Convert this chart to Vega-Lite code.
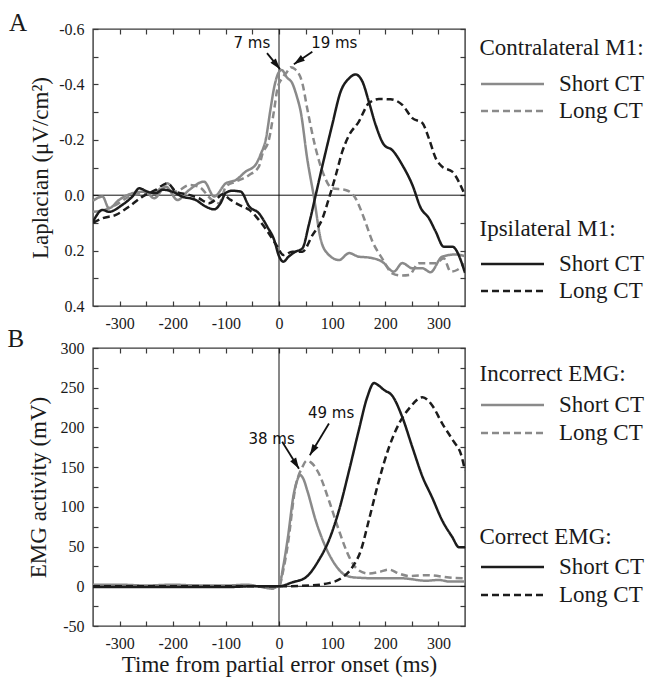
{
  "$schema": "https://vega.github.io/schema/vega-lite/v6.json",
  "padding": {"left": 6, "top": 10, "right": 4, "bottom": 2},
  "bounds": "flush",
  "spacing": 42,
  "background": "white",
  "config": {
    "font": "Liberation Serif",
    "style": {"guide-label": {"font": "Liberation Serif"}, "guide-title": {"font": "Liberation Serif"}},
    "view": {"stroke": "#3a3a3a", "strokeWidth": 1.4},
    "axis": {"grid": false, "domain": false, "tickColor": "#3a3a3a", "tickSize": -5, "tickWidth": 1.2, "labelFont": "Liberation Serif", "labelFontSize": 16, "labelColor": "#1a1a1a", "labelPadding": 14, "labelFlush": false, "labelOverlap": false, "titleFont": "Liberation Serif", "titleFontSize": 23, "titleFontWeight": "normal", "titleColor": "#1a1a1a"},
    "legend": {"orient": "none", "padding": 0, "titleFont": "Liberation Serif", "titleFontSize": 23, "titleFontWeight": "normal", "titleColor": "#1a1a1a", "labelFont": "Liberation Serif", "labelFontSize": 23, "labelColor": "#1a1a1a", "symbolType": "stroke", "symbolSize": 3969, "symbolStrokeWidth": 2.5, "labelOffset": 13.5, "clipHeight": 23, "titleLimit": 400, "labelLimit": 300},
    "title": {"font": "Liberation Serif", "fontSize": 25, "fontWeight": "normal", "color": "#1a1a1a", "anchor": "start", "frame": "group", "baseline": "alphabetic"}
  },
  "datasets": {
    "contra": [
      {"ct":"Short CT","t":-350,"v":0.02},{"ct":"Short CT","t":-332,"v":0.005},{"ct":"Short CT","t":-320,"v":0.047},{"ct":"Short CT","t":-301,"v":0.017},{"ct":"Short CT","t":-276,"v":-0.007},{"ct":"Short CT","t":-251,"v":-0.013},{"ct":"Short CT","t":-235,"v":0.011},{"ct":"Short CT","t":-213,"v":-0.031},{"ct":"Short CT","t":-191,"v":0.017},{"ct":"Short CT","t":-169,"v":-0.019},{"ct":"Short CT","t":-141,"v":-0.049},{"ct":"Short CT","t":-122,"v":0.005},{"ct":"Short CT","t":-100,"v":-0.043},{"ct":"Short CT","t":-81,"v":-0.055},{"ct":"Short CT","t":-63,"v":-0.085},{"ct":"Short CT","t":-44,"v":-0.11},{"ct":"Short CT","t":-34,"v":-0.15},{"ct":"Short CT","t":-25,"v":-0.2},{"ct":"Short CT","t":-16,"v":-0.31},{"ct":"Short CT","t":-9,"v":-0.39},{"ct":"Short CT","t":0,"v":-0.445},{"ct":"Short CT","t":5,"v":-0.452},{"ct":"Short CT","t":15,"v":-0.425},{"ct":"Short CT","t":25,"v":-0.404},{"ct":"Short CT","t":33,"v":-0.36},{"ct":"Short CT","t":41,"v":-0.3},{"ct":"Short CT","t":53,"v":-0.133},{"ct":"Short CT","t":66,"v":0.01},{"ct":"Short CT","t":78,"v":0.155},{"ct":"Short CT","t":91,"v":0.21},{"ct":"Short CT","t":113,"v":0.234},{"ct":"Short CT","t":132,"v":0.209},{"ct":"Short CT","t":150,"v":0.222},{"ct":"Short CT","t":169,"v":0.225},{"ct":"Short CT","t":194,"v":0.24},{"ct":"Short CT","t":216,"v":0.276},{"ct":"Short CT","t":232,"v":0.245},{"ct":"Short CT","t":251,"v":0.264},{"ct":"Short CT","t":270,"v":0.264},{"ct":"Short CT","t":285,"v":0.278},{"ct":"Short CT","t":307,"v":0.222},{"ct":"Short CT","t":332,"v":0.214},{"ct":"Short CT","t":350,"v":0.22},
      {"ct":"Long CT","t":-350,"v":0.06},{"ct":"Long CT","t":-332,"v":0.055},{"ct":"Long CT","t":-307,"v":0.035},{"ct":"Long CT","t":-282,"v":0.005},{"ct":"Long CT","t":-257,"v":-0.007},{"ct":"Long CT","t":-232,"v":-0.013},{"ct":"Long CT","t":-210,"v":-0.043},{"ct":"Long CT","t":-194,"v":-0.013},{"ct":"Long CT","t":-169,"v":-0.037},{"ct":"Long CT","t":-151,"v":-0.031},{"ct":"Long CT","t":-126,"v":0.017},{"ct":"Long CT","t":-113,"v":0.029},{"ct":"Long CT","t":-100,"v":-0.031},{"ct":"Long CT","t":-81,"v":-0.049},{"ct":"Long CT","t":-56,"v":-0.073},{"ct":"Long CT","t":-38,"v":-0.103},{"ct":"Long CT","t":-31,"v":-0.15},{"ct":"Long CT","t":-19,"v":-0.2},{"ct":"Long CT","t":-9,"v":-0.31},{"ct":"Long CT","t":-3,"v":-0.385},{"ct":"Long CT","t":5,"v":-0.42},{"ct":"Long CT","t":15,"v":-0.445},{"ct":"Long CT","t":22,"v":-0.462},{"ct":"Long CT","t":30,"v":-0.455},{"ct":"Long CT","t":44,"v":-0.404},{"ct":"Long CT","t":53,"v":-0.314},{"ct":"Long CT","t":66,"v":-0.193},{"ct":"Long CT","t":82,"v":-0.085},{"ct":"Long CT","t":100,"v":-0.025},{"ct":"Long CT","t":125,"v":-0.019},{"ct":"Long CT","t":144,"v":0.011},{"ct":"Long CT","t":160,"v":0.083},{"ct":"Long CT","t":176,"v":0.168},{"ct":"Long CT","t":194,"v":0.228},{"ct":"Long CT","t":213,"v":0.282},{"ct":"Long CT","t":230,"v":0.29},{"ct":"Long CT","t":245,"v":0.288},{"ct":"Long CT","t":263,"v":0.246},{"ct":"Long CT","t":295,"v":0.246},{"ct":"Long CT","t":310,"v":0.228},{"ct":"Long CT","t":323,"v":0.276},{"ct":"Long CT","t":335,"v":0.27},{"ct":"Long CT","t":350,"v":0.246}
    ],
    "ipsi": [
      {"ct":"Short CT","t":-350,"v":0.096},{"ct":"Short CT","t":-332,"v":0.053},{"ct":"Short CT","t":-320,"v":0.06},{"ct":"Short CT","t":-295,"v":0.035},{"ct":"Short CT","t":-276,"v":0.005},{"ct":"Short CT","t":-263,"v":-0.025},{"ct":"Short CT","t":-248,"v":-0.013},{"ct":"Short CT","t":-232,"v":-0.007},{"ct":"Short CT","t":-219,"v":-0.02},{"ct":"Short CT","t":-201,"v":-0.013},{"ct":"Short CT","t":-182,"v":0.005},{"ct":"Short CT","t":-157,"v":0.017},{"ct":"Short CT","t":-138,"v":0.041},{"ct":"Short CT","t":-122,"v":0.051},{"ct":"Short CT","t":-110,"v":0.029},{"ct":"Short CT","t":-100,"v":-0.009},{"ct":"Short CT","t":-88,"v":-0.016},{"ct":"Short CT","t":-72,"v":-0.013},{"ct":"Short CT","t":-56,"v":0.041},{"ct":"Short CT","t":-38,"v":0.065},{"ct":"Short CT","t":-22,"v":0.114},{"ct":"Short CT","t":-9,"v":0.162},{"ct":"Short CT","t":0,"v":0.22},{"ct":"Short CT","t":8,"v":0.24},{"ct":"Short CT","t":18,"v":0.222},{"ct":"Short CT","t":30,"v":0.205},{"ct":"Short CT","t":44,"v":0.192},{"ct":"Short CT","t":56,"v":0.108},{"ct":"Short CT","t":69,"v":0.0},{"ct":"Short CT","t":82,"v":-0.109},{"ct":"Short CT","t":100,"v":-0.253},{"ct":"Short CT","t":116,"v":-0.374},{"ct":"Short CT","t":132,"v":-0.422},{"ct":"Short CT","t":144,"v":-0.436},{"ct":"Short CT","t":157,"v":-0.41},{"ct":"Short CT","t":169,"v":-0.338},{"ct":"Short CT","t":182,"v":-0.253},{"ct":"Short CT","t":198,"v":-0.181},{"ct":"Short CT","t":213,"v":-0.163},{"ct":"Short CT","t":232,"v":-0.109},{"ct":"Short CT","t":251,"v":-0.037},{"ct":"Short CT","t":267,"v":0.047},{"ct":"Short CT","t":282,"v":0.083},{"ct":"Short CT","t":295,"v":0.132},{"ct":"Short CT","t":310,"v":0.186},{"ct":"Short CT","t":326,"v":0.186},{"ct":"Short CT","t":350,"v":0.28},
      {"ct":"Long CT","t":-350,"v":0.1},{"ct":"Long CT","t":-332,"v":0.083},{"ct":"Long CT","t":-307,"v":0.071},{"ct":"Long CT","t":-282,"v":0.041},{"ct":"Long CT","t":-257,"v":0.005},{"ct":"Long CT","t":-232,"v":-0.019},{"ct":"Long CT","t":-210,"v":-0.043},{"ct":"Long CT","t":-194,"v":-0.013},{"ct":"Long CT","t":-169,"v":-0.001},{"ct":"Long CT","t":-151,"v":0.011},{"ct":"Long CT","t":-132,"v":0.029},{"ct":"Long CT","t":-116,"v":0.011},{"ct":"Long CT","t":-107,"v":-0.003},{"ct":"Long CT","t":-91,"v":0.017},{"ct":"Long CT","t":-75,"v":0.035},{"ct":"Long CT","t":-56,"v":0.053},{"ct":"Long CT","t":-38,"v":0.089},{"ct":"Long CT","t":-19,"v":0.138},{"ct":"Long CT","t":-3,"v":0.186},{"ct":"Long CT","t":8,"v":0.216},{"ct":"Long CT","t":25,"v":0.204},{"ct":"Long CT","t":44,"v":0.204},{"ct":"Long CT","t":63,"v":0.144},{"ct":"Long CT","t":82,"v":0.083},{"ct":"Long CT","t":94,"v":0.011},{"ct":"Long CT","t":107,"v":-0.073},{"ct":"Long CT","t":119,"v":-0.157},{"ct":"Long CT","t":132,"v":-0.217},{"ct":"Long CT","t":150,"v":-0.265},{"ct":"Long CT","t":169,"v":-0.332},{"ct":"Long CT","t":188,"v":-0.347},{"ct":"Long CT","t":210,"v":-0.346},{"ct":"Long CT","t":232,"v":-0.326},{"ct":"Long CT","t":251,"v":-0.278},{"ct":"Long CT","t":270,"v":-0.26},{"ct":"Long CT","t":282,"v":-0.205},{"ct":"Long CT","t":295,"v":-0.133},{"ct":"Long CT","t":307,"v":-0.103},{"ct":"Long CT","t":326,"v":-0.085},{"ct":"Long CT","t":350,"v":0.0}
    ],
    "incorrect": [
      {"ct":"Short CT","t":-350,"v":2},{"ct":"Short CT","t":-300,"v":2},{"ct":"Short CT","t":-250,"v":1},{"ct":"Short CT","t":-200,"v":2},{"ct":"Short CT","t":-150,"v":1},{"ct":"Short CT","t":-100,"v":1},{"ct":"Short CT","t":-60,"v":2},{"ct":"Short CT","t":-40,"v":0},{"ct":"Short CT","t":-25,"v":-2},{"ct":"Short CT","t":-12,"v":-3},{"ct":"Short CT","t":-5,"v":-1},{"ct":"Short CT","t":0,"v":0},{"ct":"Short CT","t":8,"v":25},{"ct":"Short CT","t":16,"v":58},{"ct":"Short CT","t":28,"v":117},{"ct":"Short CT","t":34,"v":133},{"ct":"Short CT","t":40,"v":140},{"ct":"Short CT","t":46,"v":135},{"ct":"Short CT","t":53,"v":121},{"ct":"Short CT","t":69,"v":83},{"ct":"Short CT","t":88,"v":49},{"ct":"Short CT","t":107,"v":26},{"ct":"Short CT","t":125,"v":14},{"ct":"Short CT","t":144,"v":11},{"ct":"Short CT","t":188,"v":10},{"ct":"Short CT","t":232,"v":10},{"ct":"Short CT","t":276,"v":7},{"ct":"Short CT","t":301,"v":8},{"ct":"Short CT","t":320,"v":6},{"ct":"Short CT","t":350,"v":6},
      {"ct":"Long CT","t":-350,"v":1},{"ct":"Long CT","t":-300,"v":1},{"ct":"Long CT","t":-250,"v":0},{"ct":"Long CT","t":-200,"v":1},{"ct":"Long CT","t":-150,"v":1},{"ct":"Long CT","t":-100,"v":0},{"ct":"Long CT","t":-60,"v":1},{"ct":"Long CT","t":-40,"v":0},{"ct":"Long CT","t":-20,"v":-1},{"ct":"Long CT","t":0,"v":0},{"ct":"Long CT","t":8,"v":20},{"ct":"Long CT","t":16,"v":50},{"ct":"Long CT","t":31,"v":125},{"ct":"Long CT","t":44,"v":150},{"ct":"Long CT","t":52,"v":158},{"ct":"Long CT","t":60,"v":156},{"ct":"Long CT","t":75,"v":142},{"ct":"Long CT","t":94,"v":108},{"ct":"Long CT","t":113,"v":70},{"ct":"Long CT","t":132,"v":37},{"ct":"Long CT","t":150,"v":20},{"ct":"Long CT","t":169,"v":16},{"ct":"Long CT","t":188,"v":18},{"ct":"Long CT","t":207,"v":21},{"ct":"Long CT","t":226,"v":16},{"ct":"Long CT","t":245,"v":13},{"ct":"Long CT","t":282,"v":14},{"ct":"Long CT","t":320,"v":11},{"ct":"Long CT","t":350,"v":10}
    ],
    "correct": [
      {"ct":"Short CT","t":-350,"v":-1},{"ct":"Short CT","t":-300,"v":-1},{"ct":"Short CT","t":-250,"v":-1},{"ct":"Short CT","t":-200,"v":-1},{"ct":"Short CT","t":-150,"v":-1},{"ct":"Short CT","t":-100,"v":-1},{"ct":"Short CT","t":-50,"v":0},{"ct":"Short CT","t":-20,"v":0},{"ct":"Short CT","t":0,"v":0},{"ct":"Short CT","t":25,"v":5},{"ct":"Short CT","t":50,"v":11},{"ct":"Short CT","t":75,"v":33},{"ct":"Short CT","t":94,"v":58},{"ct":"Short CT","t":113,"v":96},{"ct":"Short CT","t":132,"v":146},{"ct":"Short CT","t":150,"v":196},{"ct":"Short CT","t":166,"v":238},{"ct":"Short CT","t":179,"v":256},{"ct":"Short CT","t":185,"v":254},{"ct":"Short CT","t":198,"v":247},{"ct":"Short CT","t":213,"v":240},{"ct":"Short CT","t":232,"v":213},{"ct":"Short CT","t":251,"v":175},{"ct":"Short CT","t":270,"v":138},{"ct":"Short CT","t":288,"v":112},{"ct":"Short CT","t":307,"v":83},{"ct":"Short CT","t":326,"v":62},{"ct":"Short CT","t":339,"v":49},{"ct":"Short CT","t":350,"v":49},
      {"ct":"Long CT","t":-350,"v":0},{"ct":"Long CT","t":-300,"v":0},{"ct":"Long CT","t":-200,"v":0},{"ct":"Long CT","t":-100,"v":0},{"ct":"Long CT","t":0,"v":0},{"ct":"Long CT","t":56,"v":1},{"ct":"Long CT","t":94,"v":4},{"ct":"Long CT","t":119,"v":11},{"ct":"Long CT","t":138,"v":24},{"ct":"Long CT","t":154,"v":45},{"ct":"Long CT","t":169,"v":83},{"ct":"Long CT","t":188,"v":133},{"ct":"Long CT","t":207,"v":175},{"ct":"Long CT","t":226,"v":205},{"ct":"Long CT","t":245,"v":224},{"ct":"Long CT","t":270,"v":238},{"ct":"Long CT","t":288,"v":228},{"ct":"Long CT","t":307,"v":205},{"ct":"Long CT","t":329,"v":182},{"ct":"Long CT","t":342,"v":167},{"ct":"Long CT","t":350,"v":146}
    ],
    "notesA": [{"label":"7 ms","t":-51,"v":-0.549},{"label":"19 ms","t":104,"v":-0.549}],
    "arrowsA": [{"id":"a7","t":-22.6,"v":-0.513,"t2":2,"v2":-0.455},{"id":"a19","t":62.7,"v":-0.518,"t2":28,"v2":-0.473}],
    "notesB": [{"label":"38 ms","t":-14,"v":185},{"label":"49 ms","t":98,"v":218}],
    "arrowsB": [{"id":"a38","t":6,"v":182,"t2":37.6,"v2":148},{"id":"a49","t":94,"v":205,"t2":58,"v2":165}]
  },
  "resolve": {"scale": {"x": "independent", "y": "independent", "stroke": "independent", "strokeDash": "independent"}},
  "vconcat": [
    {
      "width": 372, "height": 277,
      "title": {"text": "A", "dx": -84, "offset": -15},
      "resolve": {"axis": {"x": "independent", "y": "independent"}, "scale": {"stroke": "independent", "strokeDash": "independent"}},
      "layer": [
        {"data": {"values": [{}]}, "mark": {"type": "rule", "color": "#111", "strokeWidth": 1},
         "encoding": {"x": {"datum": 0, "type": "quantitative", "scale": {"domain": [-350, 350], "nice": false, "zero": false}, "axis": null}}},
        {"data": {"values": [{}]}, "mark": {"type": "rule", "color": "#111", "strokeWidth": 1},
         "encoding": {"y": {"datum": 0, "type": "quantitative", "scale": {"domain": [-0.6, 0.4], "reverse": true, "nice": false, "zero": false}, "axis": null}}},
        {"data": {"name": "contra"}, "mark": {"type": "line", "strokeWidth": 2.5, "interpolate": "monotone", "clip": true},
         "encoding": {
           "x": {"field": "t", "type": "quantitative", "scale": {"domain": [-350, 350], "nice": false, "zero": false},
                 "axis": {"orient": "bottom", "values": [-300,-250,-200,-150,-100,-50,0,50,100,150,200,250,300], "labelExpr": "datum.value % 100 == 0 ? replace(format(datum.value, 'd'), '\u2212', '-') : ''", "labelFont": "Liberation Serif", "title": null}},
           "y": {"field": "v", "type": "quantitative", "scale": {"domain": [-0.6, 0.4], "reverse": true, "nice": false, "zero": false},
                 "axis": {"orient": "left", "values": [-0.6,-0.5,-0.4,-0.3,-0.2,-0.1,0,0.1,0.2,0.3,0.4], "labelExpr": "abs(round(datum.value*10)) % 2 == 0 ? replace(format(datum.value, '.1f'), '\u2212', '-') : ''", "labelFont": "Liberation Serif", "title": "Laplacian (μV/cm²)", "titlePadding": 6}},
           "stroke": {"field": "ct", "type": "nominal", "scale": {"domain": ["Short CT", "Long CT"], "range": ["#8a8a8a", "#8a8a8a"]},
                      "legend": {"title": "Contralateral M1:", "orient": "none", "legendX": 386.5, "legendY": 7.5, "titlePadding": 13, "rowPadding": 3, "labelFont": "Liberation Serif"}},
           "strokeDash": {"field": "ct", "type": "nominal", "scale": {"domain": ["Short CT", "Long CT"], "range": [[1, 0], [7, 4]]},
                      "legend": {"title": "Contralateral M1:", "orient": "none", "legendX": 386.5, "legendY": 7.5, "titlePadding": 13, "rowPadding": 3, "labelFont": "Liberation Serif"}}
         }},
        {"data": {"name": "ipsi"}, "mark": {"type": "line", "strokeWidth": 2.5, "interpolate": "monotone", "clip": true},
         "encoding": {
           "x": {"field": "t", "type": "quantitative", "scale": {"domain": [-350, 350], "nice": false, "zero": false},
                 "axis": {"orient": "top", "values": [-300,-250,-200,-150,-100,-50,0,50,100,150,200,250,300], "labels": false, "title": null}},
           "y": {"field": "v", "type": "quantitative", "scale": {"domain": [-0.6, 0.4], "reverse": true, "nice": false, "zero": false},
                 "axis": {"orient": "right", "values": [-0.6,-0.5,-0.4,-0.3,-0.2,-0.1,0,0.1,0.2,0.3,0.4], "labels": false, "title": null}},
           "stroke": {"field": "ct", "type": "nominal", "scale": {"domain": ["Short CT", "Long CT"], "range": ["#1c1c1c", "#1c1c1c"]},
                      "legend": {"title": "Ipsilateral M1:", "orient": "none", "legendX": 386.5, "legendY": 188.5, "titlePadding": 12, "rowPadding": 3, "labelFont": "Liberation Serif"}},
           "strokeDash": {"field": "ct", "type": "nominal", "scale": {"domain": ["Short CT", "Long CT"], "range": [[1, 0], [7, 4]]},
                      "legend": {"title": "Ipsilateral M1:", "orient": "none", "legendX": 386.5, "legendY": 188.5, "titlePadding": 12, "rowPadding": 3, "labelFont": "Liberation Serif"}}
         }},
        {"data": {"name": "notesA"}, "mark": {"type": "text", "font": "DejaVu Sans", "fontSize": 15, "color": "#111", "baseline": "middle", "align": "center"},
         "encoding": {"x": {"field": "t", "type": "quantitative", "scale": {"domain": [-350, 350], "nice": false, "zero": false}, "axis": null},
                      "y": {"field": "v", "type": "quantitative", "scale": {"domain": [-0.6, 0.4], "reverse": true, "nice": false, "zero": false}, "axis": null},
                      "text": {"field": "label"}}},
        {"data": {"name": "arrowsA"}, "mark": {"type": "rule", "color": "#111", "strokeWidth": 1.8},
         "encoding": {"x": {"field": "t", "type": "quantitative", "scale": {"domain": [-350, 350], "nice": false, "zero": false}, "axis": null},
                      "y": {"field": "v", "type": "quantitative", "scale": {"domain": [-0.6, 0.4], "reverse": true, "nice": false, "zero": false}, "axis": null},
                      "x2": {"field": "t2"}, "y2": {"field": "v2"}}},
        {"data": {"name": "arrowsA"}, "transform": [{"filter": "datum.id == 'a7'"}],
         "mark": {"type": "point", "shape": "M0,0L0.7,2.2L-0.7,2.2Z", "filled": true, "size": 100, "color": "#111", "opacity": 1, "angle": 141},
         "encoding": {"x": {"field": "t2", "type": "quantitative", "scale": {"domain": [-350, 350], "nice": false, "zero": false}, "axis": null},
                      "y": {"field": "v2", "type": "quantitative", "scale": {"domain": [-0.6, 0.4], "reverse": true, "nice": false, "zero": false}, "axis": null}}},
        {"data": {"name": "arrowsA"}, "transform": [{"filter": "datum.id == 'a19'"}],
         "mark": {"type": "point", "shape": "M0,0L0.7,2.2L-0.7,2.2Z", "filled": true, "size": 100, "color": "#111", "opacity": 1, "angle": 235},
         "encoding": {"x": {"field": "t2", "type": "quantitative", "scale": {"domain": [-350, 350], "nice": false, "zero": false}, "axis": null},
                      "y": {"field": "v2", "type": "quantitative", "scale": {"domain": [-0.6, 0.4], "reverse": true, "nice": false, "zero": false}, "axis": null}}}
      ]
    },
    {
      "width": 372, "height": 278,
      "title": {"text": "B", "dx": -85.5, "offset": -12},
      "resolve": {"axis": {"x": "independent", "y": "independent"}, "scale": {"stroke": "independent", "strokeDash": "independent"}},
      "layer": [
        {"data": {"values": [{}]}, "mark": {"type": "rule", "color": "#111", "strokeWidth": 1},
         "encoding": {"x": {"datum": 0, "type": "quantitative", "scale": {"domain": [-350, 350], "nice": false, "zero": false}, "axis": null}}},
        {"data": {"values": [{}]}, "mark": {"type": "rule", "color": "#111", "strokeWidth": 1},
         "encoding": {"y": {"datum": 0, "type": "quantitative", "scale": {"domain": [-50, 300], "nice": false, "zero": false}, "axis": null}}},
        {"data": {"name": "incorrect"}, "mark": {"type": "line", "strokeWidth": 2.5, "interpolate": "monotone", "clip": true},
         "encoding": {
           "x": {"field": "t", "type": "quantitative", "scale": {"domain": [-350, 350], "nice": false, "zero": false},
                 "axis": {"orient": "bottom", "values": [-300,-250,-200,-150,-100,-50,0,50,100,150,200,250,300], "labelExpr": "datum.value % 100 == 0 ? replace(format(datum.value, 'd'), '\u2212', '-') : ''", "labelFont": "Liberation Serif", "title": "Time from partial error onset (ms)", "titlePadding": 2}},
           "y": {"field": "v", "type": "quantitative", "scale": {"domain": [-50, 300], "nice": false, "zero": false},
                 "axis": {"orient": "left", "values": [-50,-25,0,25,50,75,100,125,150,175,200,225,250,275,300], "labelExpr": "datum.value % 50 == 0 ? replace(format(datum.value, 'd'), '\u2212', '-') : ''", "labelFont": "Liberation Serif", "title": "EMG activity (mV)", "titlePadding": 10}},
           "stroke": {"field": "ct", "type": "nominal", "scale": {"domain": ["Short CT", "Long CT"], "range": ["#8a8a8a", "#8a8a8a"]},
                      "legend": {"title": "Incorrect EMG:", "orient": "none", "legendX": 386.5, "legendY": 14.5, "titlePadding": 8, "rowPadding": 4, "labelFont": "Liberation Serif"}},
           "strokeDash": {"field": "ct", "type": "nominal", "scale": {"domain": ["Short CT", "Long CT"], "range": [[1, 0], [7, 4]]},
                      "legend": {"title": "Incorrect EMG:", "orient": "none", "legendX": 386.5, "legendY": 14.5, "titlePadding": 8, "rowPadding": 4, "labelFont": "Liberation Serif"}}
         }},
        {"data": {"name": "correct"}, "mark": {"type": "line", "strokeWidth": 2.5, "interpolate": "monotone", "clip": true},
         "encoding": {
           "x": {"field": "t", "type": "quantitative", "scale": {"domain": [-350, 350], "nice": false, "zero": false},
                 "axis": {"orient": "top", "values": [-300,-250,-200,-150,-100,-50,0,50,100,150,200,250,300], "labels": false, "title": null}},
           "y": {"field": "v", "type": "quantitative", "scale": {"domain": [-50, 300], "nice": false, "zero": false},
                 "axis": {"orient": "right", "values": [-50,-25,0,25,50,75,100,125,150,175,200,225,250,275,300], "labels": false, "title": null}},
           "stroke": {"field": "ct", "type": "nominal", "scale": {"domain": ["Short CT", "Long CT"], "range": ["#1c1c1c", "#1c1c1c"]},
                      "legend": {"title": "Correct EMG:", "orient": "none", "legendX": 386.5, "legendY": 177.5, "titlePadding": 7, "rowPadding": 4, "labelFont": "Liberation Serif"}},
           "strokeDash": {"field": "ct", "type": "nominal", "scale": {"domain": ["Short CT", "Long CT"], "range": [[1, 0], [7, 4]]},
                      "legend": {"title": "Correct EMG:", "orient": "none", "legendX": 386.5, "legendY": 177.5, "titlePadding": 7, "rowPadding": 4, "labelFont": "Liberation Serif"}}
         }},
        {"data": {"name": "notesB"}, "mark": {"type": "text", "font": "DejaVu Sans", "fontSize": 15, "color": "#111", "baseline": "middle", "align": "center"},
         "encoding": {"x": {"field": "t", "type": "quantitative", "scale": {"domain": [-350, 350], "nice": false, "zero": false}, "axis": null},
                      "y": {"field": "v", "type": "quantitative", "scale": {"domain": [-50, 300], "nice": false, "zero": false}, "axis": null},
                      "text": {"field": "label"}}},
        {"data": {"name": "arrowsB"}, "mark": {"type": "rule", "color": "#111", "strokeWidth": 1.8},
         "encoding": {"x": {"field": "t", "type": "quantitative", "scale": {"domain": [-350, 350], "nice": false, "zero": false}, "axis": null},
                      "y": {"field": "v", "type": "quantitative", "scale": {"domain": [-50, 300], "nice": false, "zero": false}, "axis": null},
                      "x2": {"field": "t2"}, "y2": {"field": "v2"}}},
        {"data": {"name": "arrowsB"}, "transform": [{"filter": "datum.id == 'a38'"}],
         "mark": {"type": "point", "shape": "M0,0L0.7,2.2L-0.7,2.2Z", "filled": true, "size": 100, "color": "#111", "opacity": 1, "angle": 148},
         "encoding": {"x": {"field": "t2", "type": "quantitative", "scale": {"domain": [-350, 350], "nice": false, "zero": false}, "axis": null},
                      "y": {"field": "v2", "type": "quantitative", "scale": {"domain": [-50, 300], "nice": false, "zero": false}, "axis": null}}},
        {"data": {"name": "arrowsB"}, "transform": [{"filter": "datum.id == 'a49'"}],
         "mark": {"type": "point", "shape": "M0,0L0.7,2.2L-0.7,2.2Z", "filled": true, "size": 100, "color": "#111", "opacity": 1, "angle": 211},
         "encoding": {"x": {"field": "t2", "type": "quantitative", "scale": {"domain": [-350, 350], "nice": false, "zero": false}, "axis": null},
                      "y": {"field": "v2", "type": "quantitative", "scale": {"domain": [-50, 300], "nice": false, "zero": false}, "axis": null}}}
      ]
    }
  ]
}
